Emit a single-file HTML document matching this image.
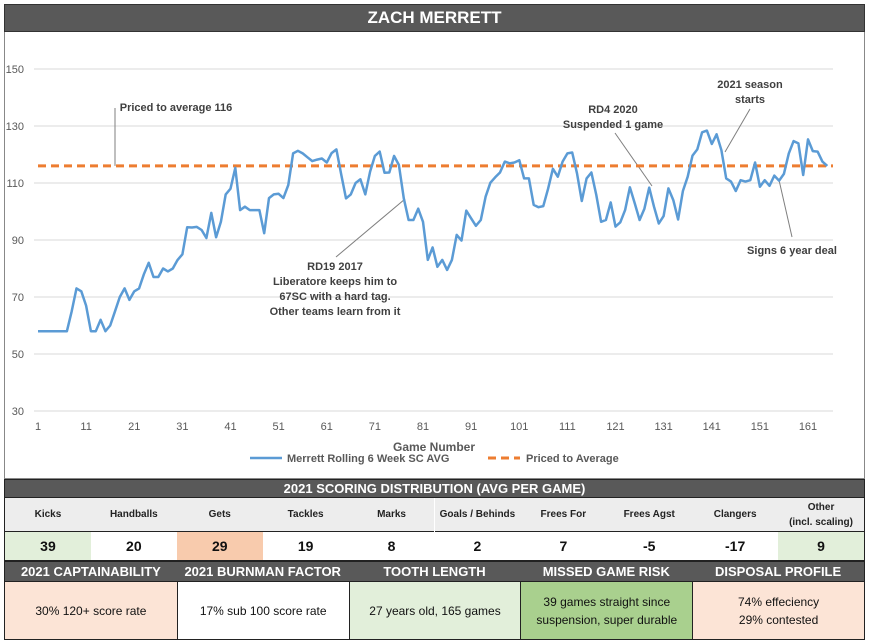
<!DOCTYPE html>
<html><head><meta charset="utf-8">
<style>
body{margin:0;background:#fff;font-family:"Liberation Sans",Calibri,sans-serif;}
#wrap{position:relative;width:871px;height:644px;overflow:hidden;}
.abs{position:absolute;box-sizing:border-box;}
.hdr{background:#595959;color:#fff;font-weight:bold;text-align:center;}
.cell{display:flex;align-items:center;justify-content:center;text-align:center;font-weight:bold;}
</style></head><body>
<div id="wrap">
<div class="abs hdr" style="left:4px;top:4px;width:861px;height:28px;border:1px solid #333;font-size:17px;line-height:26px;">ZACH MERRETT</div>
<div class="abs" style="left:4px;top:32px;width:861px;height:447px;border:1px solid #888;border-top:none;"></div>
<svg class="abs" id="chart" style="left:0;top:0" width="871" height="480" font-family="Liberation Sans, sans-serif"></svg>

<div class="abs hdr" style="left:4px;top:479px;width:861px;height:19px;font-size:13px;line-height:18px;border:1px solid #222;">2021 SCORING DISTRIBUTION (AVG PER GAME)</div>
<div id="stats" class="abs" style="left:4px;top:497px;width:861px;height:64px;border:1px solid #222;"></div>
<div id="bottom" class="abs" style="left:4px;top:561px;width:861px;height:79px;border:1px solid #222;"></div>
</div>
<script>
const games = [];
const avgValues = [58,58,58,58,58,58,58,65,73,72,67,58,58,62,58,60,65,70,73,69,72,73,78,82,77,77,80,79,80,83,85,94.5,94.4,94.6,93.5,90.7,99.5,91,96.4,106,108,115.3,100.5,101.7,100.5,100.5,100.5,92.4,104.7,106,106.2,104.7,109.3,120.4,121.3,120.4,119,117.7,118.2,118.6,117.2,120.5,121.8,113,104.6,106,110,111.3,106,114,119.5,121,113.6,113.7,119.5,116.3,104.6,97,97,101,96.4,83,87.4,80.6,83,79.5,83,91.8,89.8,100.3,97.6,95,97,105.2,110.1,112,113.7,117.5,116.9,117.2,118,111.6,111.6,102.3,101.5,101.9,108,115,112.2,117.5,120.4,120.7,113.4,103.7,111.6,113.7,105.8,96.4,97,103.2,94.7,96.2,100.5,108.5,102.8,97,101,108.4,101.7,95.8,98.4,108.1,104,97.2,107.2,112.2,119.6,121.8,127.8,128.4,123.7,127.1,121.5,111.6,110.5,107.2,111,110.5,111,117.2,108.7,111,109,112.6,110.8,113.2,120.4,124.7,123.9,112.8,125.3,121.2,121,117.5,116];
const pricedAvg = 116;
const yTicks = [30,50,70,90,110,130,150];
const xTicks = [1,11,21,31,41,51,61,71,81,91,101,111,121,131,141,151,161];
for(let i=0;i<avgValues.length;i++) games.push(i+1);

const NS="http://www.w3.org/2000/svg";
const svg=document.getElementById('chart');
function X(g){return 38+(g-1)*4.8125;}
function Y(v){return 411-(v-30)*2.85;}
function mk(tag,attrs,txt){const e=document.createElementNS(NS,tag);for(const k in attrs)e.setAttribute(k,attrs[k]);if(txt!==undefined)e.textContent=txt;svg.appendChild(e);return e;}

yTicks.forEach(t=>{
  const l=mk('line',{x1:34,x2:833,y1:Y(t),y2:Y(t),stroke:'#d9d9d9','stroke-width':1});
  
  
  const tx=mk('text',{x:24,y:Y(t)+4,'text-anchor':'end','font-size':11,fill:'#595959'},t);
  
  
});
xTicks.forEach(t=>{
  const tx=mk('text',{x:X(t),y:430,'text-anchor':'middle','font-size':11,fill:'#595959'},t);
  
  
});
const at=mk('text',{x:434,y:451,'text-anchor':'middle','font-size':12,'font-weight':'bold',fill:'#595959'},'Game Number');



// annotation lines
function ann(x1,y1,x2,y2,name){const l=mk('line',{x1,y1,x2,y2,stroke:'#7f7f7f','stroke-width':1});}
ann(X(17),108,X(17),Y(pricedAvg),'priced-annotation-line');
ann(336,257,405,199,'rd19-annotation-line');
ann(615,133,652,186,'rd4-annotation-line');
ann(750,109,725,152,'season-annotation-line');
ann(792,237,779,180,'deal-annotation-line');

const pl=mk('line',{x1:38,x2:833,y1:Y(pricedAvg),y2:Y(pricedAvg),stroke:'#ed7d31','stroke-width':3,'stroke-dasharray':'8,5'});



const pts=avgValues.map((v,i)=>X(games[i]).toFixed(1)+','+Y(v).toFixed(1)).join(' ');
const line=mk('polyline',{points:pts,fill:'none',stroke:'#5b9bd5','stroke-width':2.5,'stroke-linejoin':'round'});



function label(lines,x,y,name){lines.forEach((s,i)=>{const t=mk('text',{x,y:y+i*15,'text-anchor':'middle','font-size':11,'font-weight':'bold',fill:'#404040'},s);});}
label(['Priced to average 116'],176,111,'priced-annotation');
label(['RD19 2017','Liberatore keeps him to','67SC with a hard tag.','Other teams learn from it'],335,270,'rd19-annotation');
label(['RD4 2020','Suspended 1 game'],613,113,'rd4-annotation');
label(['2021 season','starts'],750,88,'season-annotation');
label(['Signs 6 year deal'],792,254,'deal-annotation');

// legend
const l1=mk('line',{x1:250,x2:282,y1:458,y2:458,stroke:'#5b9bd5','stroke-width':2.5});


const lt1=mk('text',{x:287,y:462,'font-size':11,'font-weight':'bold',fill:'#595959'},'Merrett Rolling 6 Week SC AVG');


const l2=mk('line',{x1:488,x2:520,y1:458,y2:458,stroke:'#ed7d31','stroke-width':3,'stroke-dasharray':'8,5'});


const lt2=mk('text',{x:526,y:462,'font-size':11,'font-weight':'bold',fill:'#595959'},'Priced to Average');



// stats table
const statLabels=['Kicks','Handballs','Gets','Tackles','Marks','Goals / Behinds','Frees For','Frees Agst','Clangers','Other<br>(incl. scaling)'];
const statVals=['39','20','29','19','8','2','7','-5','-17','9'];
const statBg=['#e2efda','#fff','#f8cbad','#fff','#fff','#fff','#fff','#fff','#fff','#e2efda'];
const st=document.getElementById('stats');
const cw=859/10;
statLabels.forEach((s,i)=>{
  const d=document.createElement('div');
  d.className='abs cell';
  d.style.cssText=`left:${i*cw}px;top:0;width:${cw}px;height:34px;background:#ededed;font-size:10px;line-height:15px;color:#222;border-bottom:1px solid #222;`;
  d.innerHTML=s;
  
  
  st.appendChild(d);
  const v=document.createElement('div');
  v.className='abs cell';
  v.style.cssText=`left:${i*cw}px;top:34px;width:${cw}px;height:28px;background:${statBg[i]};font-size:14px;color:#111;`;
  v.textContent=statVals[i];
  
  
  st.appendChild(v);
});
const bTitles=['2021 CAPTAINABILITY','2021 BURNMAN FACTOR','TOOTH LENGTH','MISSED GAME RISK','DISPOSAL PROFILE'];
const bText=['30% 120+ score rate','17% sub 100 score rate','27 years old, 165 games','39 games straight since<br>suspension, super durable','74% effeciency<br>29% contested'];
const bBg=['#fce4d6','#fff','#e2efda','#a9d08e','#fce4d6'];
const bt=document.getElementById('bottom');
const bw=859/5;
bTitles.forEach((s,i)=>{
  const h=document.createElement('div');
  h.className='abs hdr';
  h.style.cssText=`left:${i*bw}px;top:0;width:${bw}px;height:19px;font-size:13px;line-height:19px;`;
  h.textContent=s;
  
  
  bt.appendChild(h);
  const c=document.createElement('div');
  c.className='abs cell';
  c.style.cssText=`left:${i*bw}px;top:19px;width:${bw}px;height:58px;background:${bBg[i]};font-size:12px;font-weight:normal;line-height:18px;color:#111;border-top:1px solid #222;${i>0?'border-left:1px solid #222;':''}`;
  c.innerHTML=bText[i];
  
  
  bt.appendChild(c);
});
</script>
</body></html>
